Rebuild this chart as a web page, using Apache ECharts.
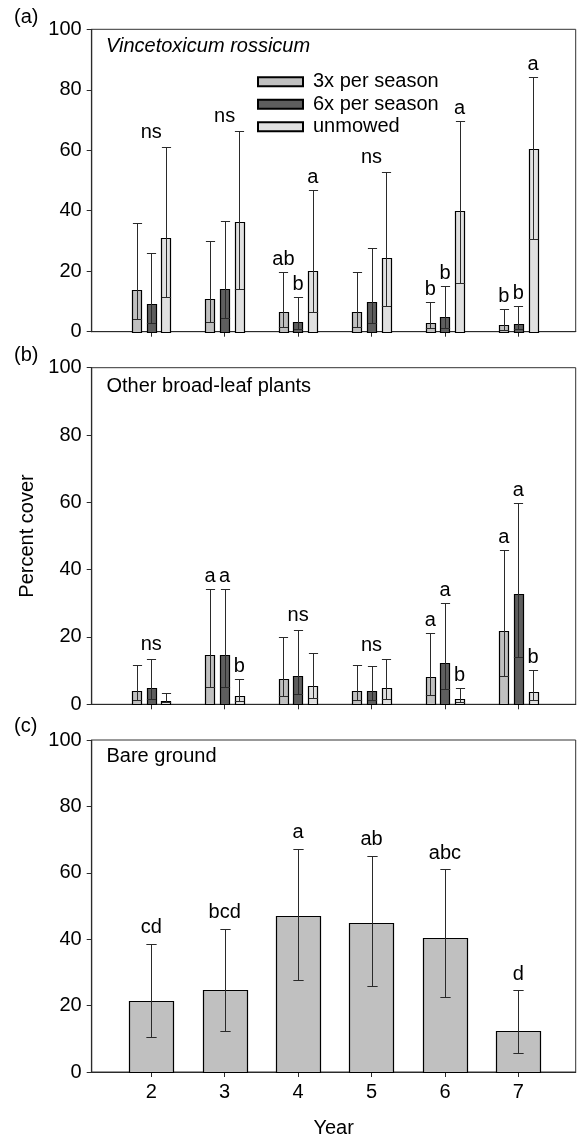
<!DOCTYPE html>
<html>
<head>
<meta charset="utf-8">
<script src="https://cdn.jsdelivr.net/npm/echarts@6/dist/echarts.min.js"></script>
<style>
html,body{margin:0;padding:0;background:#fff;}
#chart{width:581px;height:1139px;}
</style>
</head>
<body>
<div id="chart"></div>
<script>
// ---------- data ----------
const years = [2, 3, 4, 5, 6, 7];
const treatments = ['3x per season', '6x per season', 'unmowed'];
const yTicks = [0, 20, 40, 60, 80, 100];

// (a) Vincetoxicum rossicum : mean, lower error, upper error
const vr3xMean = [13.8, 10.8, 6.5, 6.5, 3.0, 2.2];
const vr3xLow  = [4.2, 3.2, 1.7, 1.7, 1.1, 0.6];
const vr3xHigh = [36.0, 30.1, 19.8, 19.8, 9.7, 7.5];
const vr6xMean = [9.0, 14.0, 3.3, 9.9, 4.8, 2.5];
const vr6xLow  = [2.8, 4.4, 0.8, 3.0, 1.1, 0.9];
const vr6xHigh = [25.9, 36.5, 11.4, 27.8, 15.1, 8.5];
const vrUnMean = [31.1, 36.4, 20.2, 24.5, 40.0, 60.5];
const vrUnLow  = [11.5, 14.0, 6.6, 8.5, 16.0, 30.6];
const vrUnHigh = [61.1, 66.4, 47.0, 52.9, 69.8, 84.1];
const vrLet3x  = ['', '', 'ab', '', 'b', 'b'];
const vrLet6x  = ['', '', 'b', '', 'b', 'b'];
const vrLetUn  = ['', '', 'a', '', 'a', 'a'];
const vrGroup  = ['ns', 'ns', '', 'ns', '', ''];

// (b) Other broad-leaf plants
const ob3xMean = [4.0, 14.5, 7.5, 4.0, 8.0, 21.9];
const ob3xLow  = [1.3, 5.2, 2.6, 1.3, 2.8, 8.4];
const ob3xHigh = [11.7, 34.2, 20.1, 11.8, 21.1, 45.8];
const ob6xMean = [4.8, 14.5, 8.5, 4.0, 12.4, 32.8];
const ob6xLow  = [1.5, 5.2, 3.1, 1.2, 4.4, 14.0];
const ob6xHigh = [13.6, 34.2, 22.1, 11.4, 30.2, 59.7];
const obUnMean = [1.1, 2.6, 5.5, 4.7, 1.5, 3.6];
const obUnLow  = [0.6, 1.1, 1.8, 1.5, 0.7, 1.3];
const obUnHigh = [3.5, 7.6, 15.1, 13.4, 4.8, 10.1];
const obLet3x  = ['', 'a', '', '', 'a', 'a'];
const obLet6x  = ['', 'a', '', '', 'a', 'a'];
const obLetUn  = ['', 'b', '', '', 'b', 'b'];
const obGroup  = ['ns', '', 'ns', 'ns', '', ''];

// (c) Bare ground
const bgMean = [21.3, 24.6, 46.9, 44.8, 40.4, 12.3];
const bgLow  = [10.5, 12.3, 27.8, 25.9, 22.6, 5.7];
const bgHigh = [38.7, 43.2, 67.3, 65.2, 61.0, 24.6];
const bgLet  = ['cd', 'bcd', 'a', 'ab', 'abc', 'd'];

// ---------- style ----------
const FONT = 'Liberation Sans, Arial, Helvetica, sans-serif';
const FS = 20;
const colors = ['#c0c0c0', '#5e5e5e', '#e0e0e0'];
const lineCol = '#2a2a2a';

function crisp(v) { return Math.round(v) + 0.5; }

function barItem(api, cx, hw, capHw, yTop, yBase, yLo, yHi, fill, letter, gap) {
  const children = [];
  children.push({
    type: 'rect',
    shape: { x: Math.round(cx - hw) + 0.5, y: crisp(yTop), width: Math.round(2 * hw), height: crisp(yBase) - crisp(yTop) },
    style: { fill: fill, stroke: '#000', lineWidth: 1.2 }
  });
  const xc = crisp(cx);
  children.push({ type: 'line', shape: { x1: xc, y1: crisp(yLo), x2: xc, y2: crisp(yHi) }, style: { stroke: lineCol, lineWidth: 1 } });
  children.push({ type: 'line', shape: { x1: xc - capHw, y1: crisp(yLo), x2: xc + capHw, y2: crisp(yLo) }, style: { stroke: lineCol, lineWidth: 1 } });
  children.push({ type: 'line', shape: { x1: xc - capHw, y1: crisp(yHi), x2: xc + capHw, y2: crisp(yHi) }, style: { stroke: lineCol, lineWidth: 1 } });
  if (letter) {
    children.push({
      type: 'text',
      style: { x: cx, y: yHi - gap, text: letter, fill: '#000', font: FS + 'px ' + FONT, textAlign: 'center', textVerticalAlign: 'middle' }
    });
  }
  return { type: 'group', children: children };
}

function groupedSeries(name, gi, k, means, lows, highs, letters) {
  const offsets = [-0.2, 0, 0.2];
  return {
    name: name,
    type: 'custom',
    xAxisIndex: gi, yAxisIndex: gi,
    itemStyle: { color: colors[k], borderColor: '#000', borderWidth: 1 },
    data: years.map((y, i) => [y, means[i], lows[i], highs[i]]),
    renderItem: function (params, api) {
      const x = api.value(0) + offsets[k];
      const top = api.coord([x, api.value(1)]);
      const base = api.coord([x, 0]);
      const lo = api.coord([x, api.value(2)]);
      const hi = api.coord([x, api.value(3)]);
      const hw = api.size([0.125, 0])[0] / 2;
      return barItem(api, top[0], hw, hw, top[1], base[1], lo[1], hi[1], colors[k], letters[params.dataIndex], 12.5);
    }
  };
}

function groupLabelSeries(gi, highsList, labels) {
  return {
    type: 'custom',
    xAxisIndex: gi, yAxisIndex: gi,
    data: years.map((y, i) => [y, Math.max(highsList[0][i], highsList[1][i], highsList[2][i])]),
    renderItem: function (params, api) {
      const t = labels[params.dataIndex];
      if (!t) return null;
      const p = api.coord([api.value(0), api.value(1)]);
      return { type: 'text', style: { x: p[0], y: p[1] - 14, text: t, fill: '#000', font: FS + 'px ' + FONT, textAlign: 'center', textVerticalAlign: 'middle' } };
    }
  };
}

const grids = [
  { left: 91.7, top: 29.3, width: 484, height: 302.4 },
  { left: 91.7, top: 367.7, width: 484, height: 336.6 },
  { left: 91.7, top: 740, width: 484, height: 332.7 }
].map(g => Object.assign({ show: true, borderColor: '#333', borderWidth: 1, backgroundColor: 'transparent' }, g));

function xAxisFor(gi) {
  const a = {
    type: 'value', gridIndex: gi, min: 1.19, max: 7.78,
    axisLine: { show: true, onZero: false, lineStyle: { color: lineCol, width: 1.2 } },
    axisTick: { show: true, length: 5, customValues: years, lineStyle: { color: lineCol } },
    axisLabel: { show: gi === 2, customValues: years, fontSize: FS, fontFamily: FONT, color: '#000', margin: 10 },
    splitLine: { show: false }
  };
  if (gi === 2) {
    a.name = 'Year'; a.nameLocation = 'middle'; a.nameGap = 46;
    a.nameTextStyle = { fontSize: FS, fontFamily: FONT, color: '#000' };
  }
  return a;
}
function yAxisFor(gi) {
  const a = {
    type: 'value', gridIndex: gi, min: 0, max: 100, interval: 20,
    axisLine: { show: true, onZero: false, lineStyle: { color: lineCol, width: 1.2 } },
    axisTick: { show: true, length: 5, lineStyle: { color: lineCol } },
    axisLabel: { fontSize: FS, fontFamily: FONT, color: '#000', margin: 10 },
    splitLine: { show: false }
  };
  if (gi === 1) {
    a.name = 'Percent cover'; a.nameLocation = 'middle'; a.nameGap = 50;
    a.nameTextStyle = { fontSize: FS, fontFamily: FONT, color: '#000' };
  }
  return a;
}

const series = [
  groupedSeries(treatments[0], 0, 0, vr3xMean, vr3xLow, vr3xHigh, vrLet3x),
  groupedSeries(treatments[1], 0, 1, vr6xMean, vr6xLow, vr6xHigh, vrLet6x),
  groupedSeries(treatments[2], 0, 2, vrUnMean, vrUnLow, vrUnHigh, vrLetUn),
  groupLabelSeries(0, [vr3xHigh, vr6xHigh, vrUnHigh], vrGroup),
  groupedSeries(treatments[0], 1, 0, ob3xMean, ob3xLow, ob3xHigh, obLet3x),
  groupedSeries(treatments[1], 1, 1, ob6xMean, ob6xLow, ob6xHigh, obLet6x),
  groupedSeries(treatments[2], 1, 2, obUnMean, obUnLow, obUnHigh, obLetUn),
  groupLabelSeries(1, [ob3xHigh, ob6xHigh, obUnHigh], obGroup),
  {
    name: 'Bare ground',
    type: 'custom', xAxisIndex: 2, yAxisIndex: 2,
    data: years.map((y, i) => [y, bgMean[i], bgLow[i], bgHigh[i]]),
    renderItem: function (params, api) {
      const x = api.value(0);
      const top = api.coord([x, api.value(1)]);
      const base = api.coord([x, 0]);
      const lo = api.coord([x, api.value(2)]);
      const hi = api.coord([x, api.value(3)]);
      const hw = api.size([0.6, 0])[0] / 2;
      const cap = api.size([0.14, 0])[0] / 2;
      return barItem(api, top[0], hw, cap, top[1], base[1], lo[1], hi[1], '#c0c0c0', bgLet[params.dataIndex], 16);
    }
  }
];

const titleStyle = { fontSize: FS, fontFamily: FONT, color: '#000', fontWeight: 'normal' };
const option = {
  animation: false,
  backgroundColor: '#fff',
  title: [
    { text: '(a)', left: 14, top: 7, padding: 0, textStyle: titleStyle },
    { text: '(b)', left: 14, top: 345, padding: 0, textStyle: titleStyle },
    { text: '(c)', left: 14, top: 716.5, padding: 0, textStyle: titleStyle },
    { text: 'Vincetoxicum rossicum', left: 106, top: 36, padding: 0, textStyle: Object.assign({}, titleStyle, { fontStyle: 'italic' }) },
    { text: 'Other broad-leaf plants', left: 106.5, top: 376, padding: 0, textStyle: titleStyle },
    { text: 'Bare ground', left: 106.5, top: 746, padding: 0, textStyle: titleStyle }
  ],
  legend: {
    data: treatments,
    orient: 'vertical',
    left: 257, top: 71.7,
    itemWidth: 45, itemHeight: 9, itemGap: 2.5,
    icon: 'rect',
    selectedMode: false,
    padding: 0,
    textStyle: { fontSize: FS, fontFamily: FONT, color: '#000', padding: [0, 0, 0, 5] }
  },
  grid: grids,
  xAxis: [0, 1, 2].map(xAxisFor),
  yAxis: [0, 1, 2].map(yAxisFor),
  series: series
};

const chart = echarts.init(document.getElementById('chart'), null, { renderer: 'canvas' });
chart.setOption(option);
</script>
</body>
</html>
